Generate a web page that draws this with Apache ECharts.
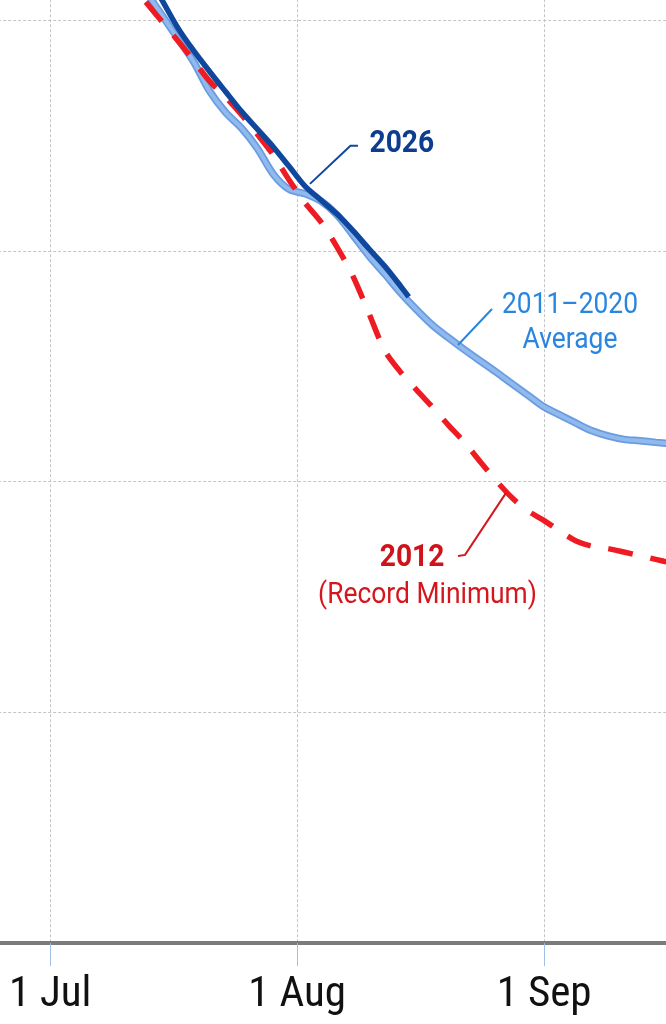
<!DOCTYPE html>
<html>
<head>
<meta charset="utf-8">
<script src="https://cdn.jsdelivr.net/npm/echarts@6/dist/echarts.min.js"></script>
<style>
html,body{margin:0;padding:0;background:#fff;}
#chart{width:666px;height:1024px;}
</style>
</head>
<body>
<div id="chart"></div>
<script>
// ---- data (x = days since 1 Jul, y = extent) ----
const xTickLabels = ['1 Jun', '1 Jul', '1 Aug', '1 Sep', '1 Oct'];
const daysHist = [12,14,16,18,20,22,24,26,28,30,32,34,36,38,40,42,44,46,48,50,52,54,56,58,60,62,64,66,68,70,72,74,76,78];
const avg2011_2020 = [6.124,6.022,5.921,5.819,5.692,5.600,5.532,5.444,5.332,5.266,5.247,5.215,5.155,5.068,4.978,4.899,4.817,4.744,4.677,4.623,4.571,4.522,4.474,4.423,4.373,4.323,4.288,4.253,4.220,4.198,4.183,4.177,4.170,4.164];
const y2012 = [6.078,5.994,5.911,5.824,5.735,5.666,5.590,5.505,5.415,5.306,5.207,5.124,5.016,4.890,4.729,4.567,4.473,4.396,4.322,4.244,4.170,4.085,4.003,3.929,3.872,3.831,3.785,3.743,3.720,3.710,3.695,3.679,3.663,3.647];
const days2026 = [12,14,16,18,20,22,24,26,28,30,32,34,36,38,40,42,44,45];
const y2026 = [6.206,6.088,5.967,5.867,5.777,5.690,5.604,5.527,5.450,5.365,5.279,5.219,5.159,5.087,5.009,4.933,4.846,4.800];

const zip = (xs, ys) => xs.map((x, i) => [x, ys[i]]);

const FONT = 'Roboto, "Noto Sans", sans-serif';
const chart = echarts.init(document.getElementById('chart'), null, {renderer: 'canvas'});

const avgData = zip(daysHist, avg2011_2020);
const option = {
  animation: false,
  backgroundColor: '#ffffff',
  grid: {left: -196.8, right: -125.2, top: -210.8, bottom: 80.8, containLabel: false, outerBoundsMode: 'none'},
  xAxis: {
    type: 'value', min: -31, max: 93, interval: 31,
    axisLine: {show: true, onZero: false, lineStyle: {color: '#7b7b7b', width: 4}},
    axisTick: {show: true, length: 23, lineStyle: {color: '#9fc0e6', width: 1}},
    axisLabel: {
      margin: 31, fontSize: 43, color: '#111', fontFamily: '"Roboto Condensed", ' + FONT,
      formatter: (v) => xTickLabels[Math.round((v + 31) / 31)] || ''
    },
    splitLine: {show: true, lineStyle: {color: '#c4c4c4', width: 1, type: [3, 2]}}
  },
  yAxis: {
    type: 'value', min: 2, max: 7, interval: 1,
    axisLine: {show: false}, axisTick: {show: false}, axisLabel: {show: false},
    splitLine: {show: true, lineStyle: {color: '#c4c4c4', width: 1, type: [3, 2]}}
  },
  series: [
    {
      name: '2011–2020 Average (edge)', type: 'line', data: avgData,
      showSymbol: false, smooth: 0.3, z: 2, silent: true,
      lineStyle: {color: '#6a9ce0', width: 7.5}
    },
    {
      name: '2011–2020 Average', type: 'line', data: avgData,
      showSymbol: false, smooth: 0.3, z: 2,
      lineStyle: {color: '#90b9ee', width: 4}
    },
    {
      name: '2012', type: 'line', data: zip(daysHist, y2012),
      showSymbol: false, smooth: 0.3, z: 3,
      lineStyle: {color: '#ee1b23', width: 5.5, type: [25, 18], cap: 'butt'}
    },
    {
      name: '2026', type: 'line', data: zip(days2026, y2026),
      showSymbol: false, smooth: 0.3, z: 4,
      lineStyle: {color: '#0f479d', width: 5.5}
    }
  ]
};
chart.setOption(option);

// ---- annotations: anchor in data units, offsets in px ----
const annotations = [
  {anchor: [32.6, 5.29], color: '#0f479d', path: [[0,0],[40.5,-38],[48,-38]],
   texts: [{t: '2026', dx: 59.6, dy: -39.5, align: 'left', size: 32, weight: 'bold', color: '#0d3d8f'}]},
  {anchor: [51.18, 4.592], color: '#2a85de', path: [[0,0],[34,-36]],
   texts: [{t: '2011–2020', dx: 112, dy: -39, align: 'center', size: 30, weight: 'normal', color: '#2a85de'},
           {t: 'Average', dx: 112, dy: -4, align: 'center', size: 30, weight: 'normal', color: '#2a85de'}]},
  {anchor: [57.21, 3.951], color: '#d4161d', path: [[0,0],[-41,62],[-48,63]],
   texts: [{t: '2012', dx: -94, dy: 65, align: 'center', size: 32, weight: 'bold', color: '#cf131b'},
           {t: '(Record Minimum)', dx: -78.5, dy: 103, align: 'center', size: 30, weight: 'normal', color: '#d4161d'}]}
];

const graphics = [];
annotations.forEach((a) => {
  const p = chart.convertToPixel({gridIndex: 0}, a.anchor);
  graphics.push({
    type: 'polyline', z: 10,
    shape: {points: a.path.map(o => [p[0] + o[0], p[1] + o[1]])},
    style: {stroke: a.color, lineWidth: 2, fill: null}
  });
  a.texts.forEach((t) => {
    graphics.push({
      type: 'text', z: 11, x: p[0] + t.dx, y: p[1] + t.dy, scaleX: 0.88,
      style: {text: t.t, x: 0, y: 0, fill: t.color, align: t.align, verticalAlign: 'middle',
              font: t.weight + ' ' + t.size + 'px ' + FONT}
    });
  });
});
chart.setOption({graphic: graphics});
</script>
</body>
</html>
